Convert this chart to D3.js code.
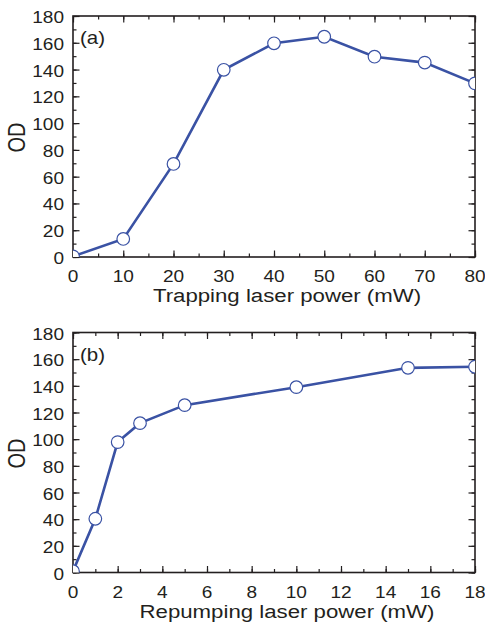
<!DOCTYPE html>
<html>
<head>
<meta charset="utf-8">
<title>OD vs laser power</title>
<script src="https://cdn.jsdelivr.net/npm/d3@7/dist/d3.min.js"></script>
<style>
  body { margin: 0; background: #fff; }
  svg text { font-family: "Liberation Sans", Arial, sans-serif; fill: #231f20; }
</style>
</head>
<body>
<svg id="chart" width="485" height="628"></svg>
<script>
// panel (a): trapping laser power
var trapPower = [0, 10, 20, 30, 40, 50, 60, 70, 80];
var trapOD = [0.5, 13.5, 69.5, 139.8, 159.6, 164.5, 149.6, 145.2, 129.7];
// panel (b): repumping laser power
var repumpPower = [0, 1, 2, 3, 5, 10, 15, 18];
var repumpOD = [1, 40.3, 97.8, 112, 125.5, 139, 153.5, 154.3];

var yTicks = [0, 20, 40, 60, 80, 100, 120, 140, 160, 180];
var trapTicks = [0, 10, 20, 30, 40, 50, 60, 70, 80];
var repumpTicks = [0, 2, 4, 6, 8, 10, 12, 14, 16, 18];

var blue = "#3a52a4";
var ink = "#231f20";
var stretch = 1.17; // the original's lettering is a bit wide
var svg = d3.select("#chart");

function place(x, y) {
  return "translate(" + x + "," + y + ") scale(" + stretch + ",1)";
}

function drawPanel(opt) {
  var x = d3.scaleLinear().domain(opt.xDomain).range([73, 475]);
  var y = d3.scaleLinear().domain([0, 180]).range([opt.bottom, opt.top]);
  var g = svg.append("g");

  function ticks(axis, vals, len) {
    return axis.tickValues(vals).tickSize(len).tickFormat("");
  }
  var minorX = d3.range(opt.xDomain[0], opt.xDomain[1] + 0.001, opt.xMinor);
  var minorY = d3.range(0, 180.001, 10);

  // inward ticks on all four sides
  [[d3.axisTop, opt.bottom], [d3.axisBottom, opt.top]].forEach(function (a) {
    g.append("g").attr("transform", "translate(0," + a[1] + ")")
      .call(ticks(a[0](x), minorX, 3.5));
    g.append("g").attr("transform", "translate(0," + a[1] + ")")
      .call(ticks(a[0](x), opt.xTicks, 6.5));
  });
  [[d3.axisRight, 73], [d3.axisLeft, 475]].forEach(function (a) {
    g.append("g").attr("transform", "translate(" + a[1] + ",0)")
      .call(ticks(a[0](y), minorY, 3.5));
    g.append("g").attr("transform", "translate(" + a[1] + ",0)")
      .call(ticks(a[0](y), yTicks, 6.5));
  });
  g.selectAll(".domain").remove();
  g.selectAll(".tick line").attr("stroke", ink).attr("stroke-width", 1.2);

  g.append("rect")
    .attr("x", 73).attr("y", opt.top)
    .attr("width", 402).attr("height", opt.bottom - opt.top)
    .attr("fill", "none").attr("stroke", ink).attr("stroke-width", 1.6);

  // tick labels
  g.selectAll(".xl").data(opt.xTicks).enter().append("text")
    .attr("transform", function (d) { return place(x(d), opt.bottom + 25); })
    .attr("text-anchor", "middle")
    .attr("font-size", 16.3)
    .text(function (d) { return d; });
  g.selectAll(".yl").data(yTicks).enter().append("text")
    .attr("transform", function (d) { return place(64, y(d) + 7); })
    .attr("text-anchor", "end")
    .attr("font-size", 16.3)
    .text(function (d) { return d; });

  // axis titles
  g.append("text")
    .attr("transform", place(287, opt.bottom + 45))
    .attr("text-anchor", "middle")
    .attr("font-size", 19)
    .text(opt.xTitle);
  g.append("text")
    .attr("transform", place(25, (opt.top + opt.bottom) / 2 + 1) + " rotate(-90)")
    .attr("text-anchor", "middle")
    .attr("font-size", 20)
    .text("OD");

  g.append("text")
    .attr("transform", place(80, opt.top + 28))
    .attr("font-size", 17.5)
    .text(opt.label);

  // markers are cut by the frame like the original
  var clipId = "clip" + opt.label.replace(/\W/g, "");
  g.append("clipPath").attr("id", clipId).append("rect")
    .attr("x", 73).attr("y", opt.top)
    .attr("width", 402).attr("height", opt.bottom - opt.top);

  var pts = opt.xs.map(function (d, i) { return [d, opt.ys[i]]; });
  var plot = g.append("g").attr("clip-path", "url(#" + clipId + ")");
  plot.append("path")
    .datum(pts)
    .attr("fill", "none")
    .attr("stroke", blue)
    .attr("stroke-width", 2.6)
    .attr("d", d3.line().x(function (d) { return x(d[0]); }).y(function (d) { return y(d[1]); }));
  plot.selectAll("circle").data(pts).enter().append("circle")
    .attr("cx", function (d) { return x(d[0]); })
    .attr("cy", function (d) { return y(d[1]); })
    .attr("r", 6.3)
    .attr("fill", "#fff")
    .attr("stroke", blue)
    .attr("stroke-width", 1.2);
}

drawPanel({
  xDomain: [0, 80], xTicks: trapTicks, xMinor: 5,
  top: 16, bottom: 257,
  xs: trapPower, ys: trapOD,
  xTitle: "Trapping laser power (mW)", label: "(a)"
});
drawPanel({
  xDomain: [0, 18], xTicks: repumpTicks, xMinor: 1,
  top: 332.5, bottom: 572.5,
  xs: repumpPower, ys: repumpOD,
  xTitle: "Repumping laser power (mW)", label: "(b)"
});
</script>
</body>
</html>
